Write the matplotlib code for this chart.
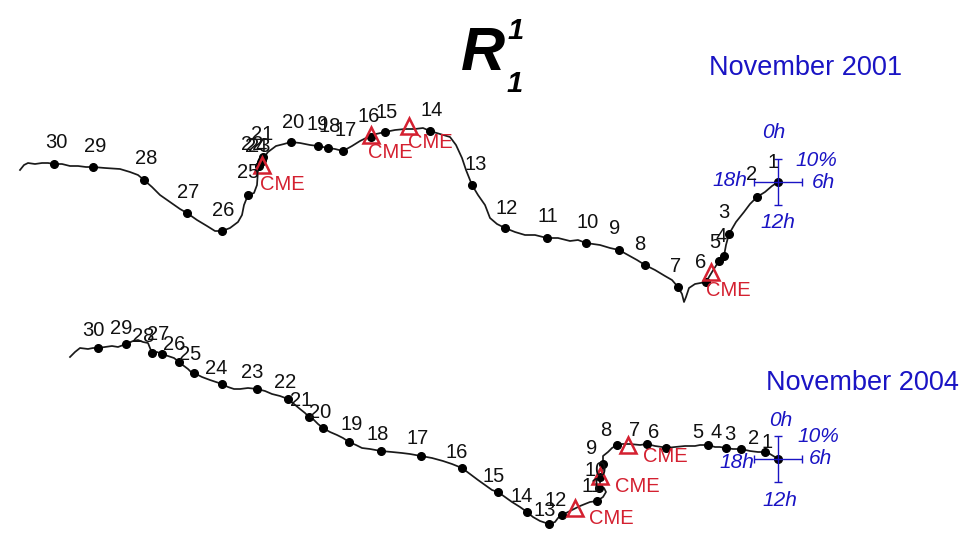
import matplotlib
matplotlib.use("Agg")
import matplotlib.pyplot as plt

plt.rcParams['font.family'] = ['Liberation Sans', 'DejaVu Sans']

# ---------------- November 2001 ----------------
days_2001 = list(range(30, 0, -1))
dot_x_2001 = [54, 93, 144, 187, 222, 248, 259, 261, 262, 263, 291, 318, 328, 343, 371,
              385, 430, 472, 505, 547, 586, 619, 645, 678, 706, 719, 724, 729, 757, 778]
dot_y_2001 = [164, 167, 180, 213, 231, 195, 166, 162, 160, 157, 142, 146, 148, 151, 137,
              132, 131, 185, 228, 238, 243, 250, 265, 287, 282, 261, 256, 234, 197, 182]
curve_x_2001 = [20, 24, 28, 35, 42, 48, 54, 62, 70, 78, 86, 93, 105, 120, 130, 138, 144, 152,
                160, 170, 180, 187, 197, 207, 215, 222, 230, 238, 242, 244, 248, 254, 257,
                258, 262, 268, 276, 284, 291, 300, 310, 318, 328, 335, 343, 352, 360, 368,
                376, 385, 395, 405, 415, 423, 430, 440, 450, 456, 462, 466, 472, 478, 485,
                490, 497, 505, 515, 525, 535, 547, 558, 570, 578, 586, 600, 610, 619, 628,
                637, 645, 655, 665, 672, 678, 682, 684, 686, 689, 695, 706, 712, 719, 724,
                726, 729, 736, 744, 750, 757, 765, 772, 778]
curve_y_2001 = [170, 165, 163, 164, 163, 163, 164, 164, 166, 166, 167, 167, 168, 169, 172, 175,
                180, 187, 195, 202, 209, 213, 220, 226, 231, 231, 228, 222, 215, 205, 195,
                193, 185, 170, 160, 152, 146, 144, 142, 143, 145, 146, 148, 149, 151, 146,
                141, 137, 134, 132, 130, 129, 129, 128, 131, 134, 137, 145, 158, 170, 185,
                195, 205, 218, 224, 228, 232, 235, 235, 238, 238, 241, 240, 243, 245, 248,
                250, 255, 260, 265, 270, 276, 280, 287, 294, 302, 297, 288, 284, 282, 272,
                261, 256, 245, 234, 222, 212, 204, 197, 192, 186, 182]
lab_x_2001 = [56, 95, 146, 188, 223, 248, 256, 259, 252, 262, 293, 318, 330, 346, 369,
              387, 432, 476, 507, 548, 588, 615, 640, 676, 701, 715, 721, 724, 752, 773]
lab_y_2001 = [143, 146, 159, 192, 210, 173, 147, 146, 145, 135, 122, 124, 126, 130, 117,
              112, 110, 164, 208, 217, 222, 229, 244, 267, 262, 243, 236, 213, 175, 162]
cme_x_2001 = [262, 371, 409, 711]
cme_y_2001 = [165, 135, 126, 272]
cme_lab_x_2001 = [282, 390, 430, 728]
cme_lab_y_2001 = [184, 152, 142, 290]

# ---------------- November 2004 ----------------
days_2004 = list(range(30, 0, -1))
dot_x_2004 = [98, 126, 152, 162, 179, 194, 222, 257, 288, 309, 323, 349, 381, 421, 462,
              498, 527, 549, 562, 599, 600, 603, 617, 647, 666, 708, 726, 741, 765, 778]
dot_y_2004 = [348, 344, 353, 354, 362, 373, 384, 389, 399, 417, 428, 442, 451, 456, 468,
              492, 512, 524, 515, 488, 477, 464, 445, 444, 448, 445, 448, 449, 452, 459]
extra_dot_x_2004 = [597]
extra_dot_y_2004 = [501]
curve_x_2004 = [70, 75, 80, 88, 93, 98, 105, 112, 118, 126, 133, 138, 143, 148, 150, 152, 157,
                162, 168, 174, 179, 184, 188, 191, 194, 202, 210, 216, 222, 228, 234, 240,
                248, 257, 265, 272, 280, 288, 294, 300, 305, 309, 314, 318, 323, 330, 337,
                343, 349, 356, 362, 370, 381, 392, 402, 410, 421, 432, 443, 452, 462, 470,
                478, 485, 492, 498, 505, 512, 520, 527, 533, 540, 549, 555, 558, 562, 570,
                580, 590, 597, 603, 606, 604, 599, 600, 600, 603, 603, 603, 608, 612, 617,
                622, 630, 640, 647, 655, 662, 666, 675, 685, 695, 700, 708, 715, 720, 726,
                733, 741, 750, 758, 765, 770, 775, 778]
curve_y_2004 = [357, 352, 348, 349, 348, 348, 347, 346, 347, 344, 341, 340, 342, 343, 348, 353,
                352, 354, 356, 358, 362, 366, 369, 372, 373, 377, 380, 382, 384, 387, 389,
                389, 388, 389, 391, 394, 396, 399, 404, 409, 413, 417, 420, 424, 428, 432,
                435, 438, 442, 445, 448, 449, 451, 452, 453, 454, 456, 458, 461, 464, 468,
                474, 480, 485, 490, 492, 497, 502, 507, 512, 517, 521, 524, 522, 518, 515,
                511, 506, 502, 501, 497, 492, 488, 488, 483, 477, 470, 464, 456, 452, 448,
                445, 444, 444, 445, 444, 446, 447, 448, 447, 446, 446, 445, 445, 447, 447,
                448, 449, 449, 451, 452, 452, 454, 457, 459]
lab_x_2004 = [93, 121, 143, 158, 174, 190, 216, 252, 285, 301, 320, 352, 378, 418, 457,
              494, 522, 545, 556, 592, 596, 592, 606, 635, 654, 698, 716, 730, 754, 767]
lab_y_2004 = [331, 328, 336, 334, 344, 355, 369, 373, 383, 401, 412, 424, 434, 438, 452,
              476, 496, 511, 500, 487, 470, 448, 430, 430, 433, 432, 433, 434, 438, 442]
cme_x_2004 = [575, 600, 628]
cme_y_2004 = [508, 476, 445]
cme_lab_x_2004 = [611, 637, 665]
cme_lab_y_2004 = [518, 487, 457]

# reference crosses (centre, half-length in hours / percent units)
cross_x = [778, 778]
cross_y = [182, 459]
cross_half_w = 24
cross_half_h = 23
cross_labels = ['0h', '6h', '12h', '18h', '10%']

BLUE = '#1a14c4'
RED = '#d42030'

fig = plt.figure(figsize=(9.63, 5.52), dpi=100)
ax = fig.add_axes([0, 0, 1, 1])
ax.set_xlim(0, 963)
ax.set_ylim(552, 0)
ax.axis('off')


def draw_panel(cx, cy, dx, dy, lx, ly, days, tx, ty, tlx, tly):
    ax.plot(cx, cy, color='#1a1a1a', lw=1.25, zorder=2)
    ax.plot(dx, dy, 'o', color='black', ms=5.5, zorder=3)
    for d, x, y in zip(days, lx, ly):
        ax.text(x, y, str(d), fontsize=14.5, ha='center', va='center',
                color='#111111', zorder=5)
    ax.plot(tx, ty, '^', ms=12, mfc='none', mec=RED, mew=1.8, zorder=4)
    for x, y in zip(tlx, tly):
        ax.text(x, y, 'CME', fontsize=14.5, ha='center', va='center',
                color=RED, zorder=5)


draw_panel(curve_x_2001, curve_y_2001, dot_x_2001, dot_y_2001, lab_x_2001, lab_y_2001,
           days_2001, cme_x_2001, cme_y_2001, cme_lab_x_2001, cme_lab_y_2001)
draw_panel(curve_x_2004, curve_y_2004, dot_x_2004, dot_y_2004, lab_x_2004, lab_y_2004,
           days_2004, cme_x_2004, cme_y_2004, cme_lab_x_2004, cme_lab_y_2004)
ax.plot(extra_dot_x_2004, extra_dot_y_2004, 'o', color='black', ms=5.5, zorder=3)

# reference crosses
for (x, y), offs in zip(zip(cross_x, cross_y),
                        [[(-4, -49), (45, 0), (0, 40), (-48, -2), (38, -22)],
                         [(3, -39), (42, 0), (2, 41), (-41, 3), (40, -23)]]):
    ax.errorbar([x], [y], xerr=cross_half_w, yerr=cross_half_h, fmt='none',
                ecolor=BLUE, elinewidth=1.0, capsize=3, capthick=1.0, zorder=3)
    for lab, (ox, oy) in zip(cross_labels, offs):
        ax.text(x + ox, y + oy, lab, fontsize=15, style='italic', color=BLUE,
                ha='center', va='center', zorder=5)

# titles
ax.text(806, 68, 'November 2001', fontsize=19.5, color=BLUE, ha='center', va='center')
ax.text(862, 383, 'November 2004', fontsize=19.5, color=BLUE, ha='center', va='center')

ax.text(483, 54, 'R', fontsize=44, fontweight='bold', style='italic', color='black',
        ha='center', va='center')
ax.text(516, 31, '1', fontsize=21, fontweight='bold', style='italic', color='black',
        ha='center', va='center')
ax.text(515, 84, '1', fontsize=21, fontweight='bold', style='italic', color='black',
        ha='center', va='center')

fig.savefig('out.png', dpi=100)
